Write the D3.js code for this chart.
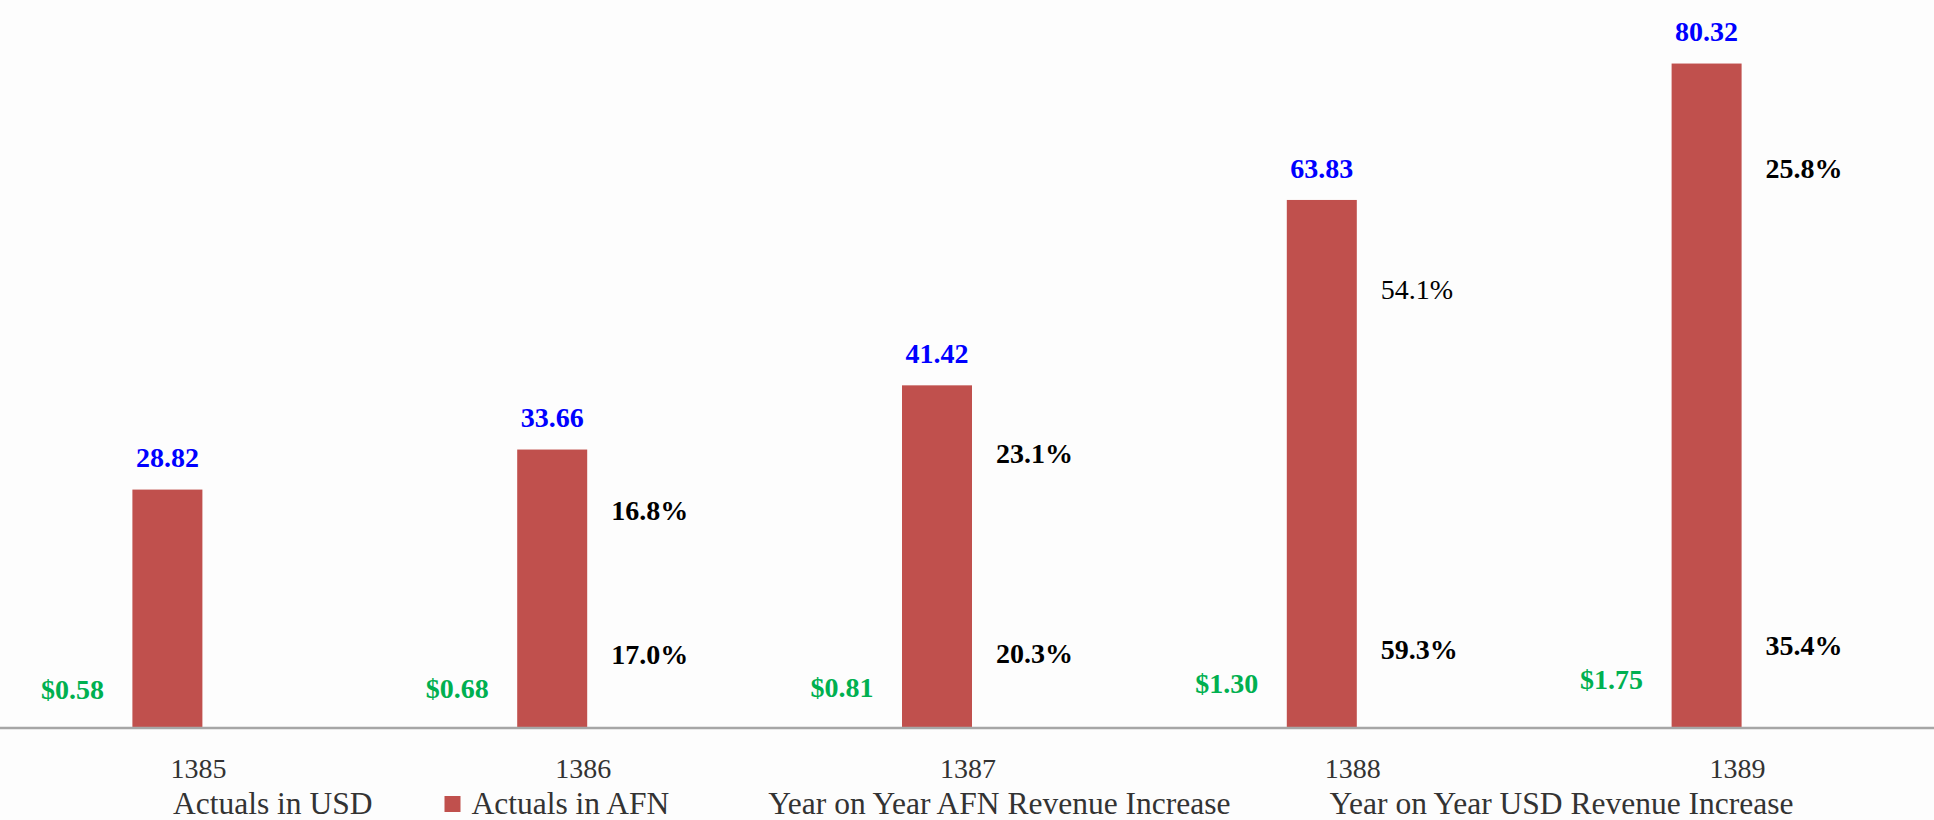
<!DOCTYPE html>
<html>
<head>
<meta charset="utf-8">
<script src="https://cdn.jsdelivr.net/npm/d3@7"></script>
<style>
  body { margin: 0; background: #fdfdfd; }
</style>
</head>
<body>
<div id="chart-container"></div>
<script>
//Chart data

const years = ["1385", "1386", "1387", "1388", "1389"];
const afnValues = [28.82, 33.66, 41.42, 63.83, 80.32];
const usdValues = [0.58, 0.68, 0.81, 1.30, 1.75];
const afnGrowth = [null, 16.8, 23.1, 54.1, 25.8];
const usdGrowth = [null, 17.0, 20.3, 59.3, 35.4];
const seriesNames = ["Actuals in USD", "Actuals in AFN", "Year on Year AFN Revenue Increase", "Year on Year USD Revenue Increase"];
const seriesColors = ["none", "#c0504d", "none", "none"];

const data = years.map((y, i) => ({
  year: y, afn: afnValues[i], usd: usdValues[i], afnG: afnGrowth[i], usdG: usdGrowth[i]
}));

//Dimensions

const width = 1934;
const height = 820;
const baseline = 728;
const serif = "'Liberation Serif', 'Times New Roman', serif";

const xScale = d3.scaleBand().domain(years).range([6, 1930]);
const yScale = d3.scaleLinear().domain([0, 88]).range([baseline, 0]);

const barWidth = 70;
const afnOffset = -31;   // AFN bar centre relative to the band centre
const usdOffset = -126;  // USD label centre relative to the band centre
const center = (d) => xScale(d.year) + xScale.bandwidth() / 2;

const svg = d3.select("#chart-container")
  .append("svg")
  .attr("width", width)
  .attr("height", height)
  .style("font-family", serif);

svg.append("rect")
  .attr("width", width)
  .attr("height", height)
  .attr("fill", "#fdfdfd");

//Bars (AFN)

svg.selectAll(".bar")
  .data(data)
  .join("rect")
  .attr("class", "bar")
  .attr("x", (d) => center(d) + afnOffset - barWidth / 2)
  .attr("y", (d) => yScale(d.afn))
  .attr("width", barWidth)
  .attr("height", (d) => yScale(0) - yScale(d.afn))
  .attr("fill", "#c0504d");

//x axis

const xAxis = svg.append("g")
  .attr("transform", `translate(0, ${baseline})`)
  .call(d3.axisBottom(xScale).tickSize(0).tickPadding(30));

xAxis.select(".domain")
  .attr("d", `M0,0H${width}`)
  .attr("stroke", "#a6a6a6")
  .attr("stroke-width", 2.5);

xAxis.selectAll(".tick text")
  .style("font-family", serif)
  .style("font-size", "28px")
  .attr("fill", "#333");

//AFN value labels (blue, above bars)

svg.selectAll(".afnLabel")
  .data(data)
  .join("text")
  .attr("class", "afnLabel")
  .attr("x", (d) => center(d) + afnOffset)
  .attr("y", (d) => yScale(d.afn) - 32)
  .attr("dy", "0.35em")
  .attr("text-anchor", "middle")
  .style("font-size", "28px")
  .style("font-weight", "bold")
  .attr("fill", "#0000ff")
  .text((d) => d.afn.toFixed(2));

//USD value labels (green, tiny invisible bars)

const usdY = (d) => yScale(d.usd) - 34;

svg.selectAll(".usdLabel")
  .data(data)
  .join("text")
  .attr("class", "usdLabel")
  .attr("x", (d) => center(d) + usdOffset)
  .attr("y", usdY)
  .attr("dy", "0.35em")
  .attr("text-anchor", "middle")
  .style("font-size", "28px")
  .style("font-weight", "bold")
  .attr("fill", "#00b050")
  .text((d) => "$" + d.usd.toFixed(2));

//Year on year growth labels

const growthX = (d) => center(d) + afnOffset + barWidth / 2 + 24;

svg.selectAll(".afnGrowth")
  .data(data.filter((d) => d.afnG !== null))
  .join("text")
  .attr("class", "afnGrowth")
  .attr("x", growthX)
  .attr("y", (d) => baseline - 0.885 * (yScale(0) - yScale(d.afn)) + 28.5)
  .attr("dy", "0.35em")
  .style("font-size", "28px")
  .style("font-weight", (d, i) => i === 2 ? "normal" : "bold")
  .attr("fill", "#000")
  .text((d) => d.afnG.toFixed(1) + "%");

svg.selectAll(".usdGrowth")
  .data(data.filter((d) => d.usdG !== null))
  .join("text")
  .attr("class", "usdGrowth")
  .attr("x", growthX)
  .attr("y", (d) => usdY(d) - 34)
  .attr("dy", "0.35em")
  .style("font-size", "28px")
  .style("font-weight", "bold")
  .attr("fill", "#000")
  .text((d) => d.usdG.toFixed(1) + "%");

//Legend

const legendGap = 72;
const legend = svg.append("g").attr("class", "legend");
let lx = 0;
seriesNames.forEach((name, i) => {
  const item = legend.append("g").attr("transform", `translate(${lx}, 0)`);
  item.append("rect")
    .attr("x", 0)
    .attr("y", -8)
    .attr("width", 16)
    .attr("height", 16)
    .attr("fill", seriesColors[i]);
  const t = item.append("text")
    .attr("x", 27)
    .attr("y", 0)
    .attr("dy", "0.32em")
    .style("font-size", "31.5px")
    .attr("fill", "#333")
    .text(name);
  lx += 27 + t.node().getComputedTextLength() + legendGap;
});
legend.attr("transform", "translate(146, 804)");
</script>
</body>
</html>
